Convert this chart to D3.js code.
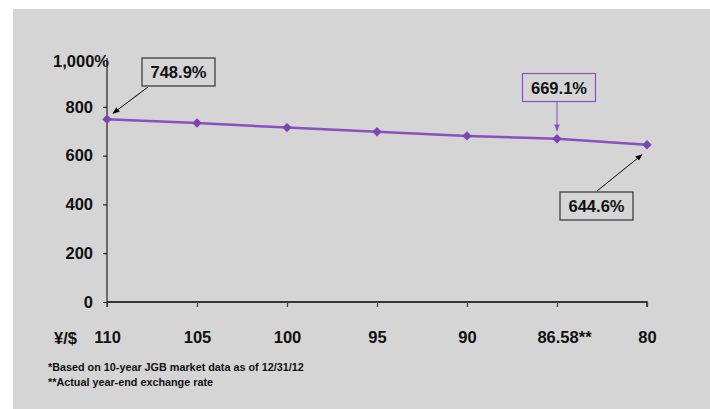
<!DOCTYPE html>
<html>
<head>
<meta charset="utf-8">
<script src="https://cdn.jsdelivr.net/npm/d3@7"></script>
<style>
  html, body { margin: 0; padding: 0; background: #ffffff; }
  svg { display: block; font-family: "Liberation Sans", Arial, sans-serif; }
</style>
</head>
<body>
<svg id="chart" width="710" height="409"></svg>
<script>
// Exchange-rate scenarios (yen per dollar) and the resulting ratio
const rates = ["110", "105", "100", "95", "90", "86.58**", "80"];
const ratios = [748.9, 733.5, 714.8, 698.0, 680.6, 669.1, 644.6];
const yTicks = [0, 200, 400, 600, 800];
const yTopLabel = "1,000%";
const xAxisTitle = "¥/$";
const footnotes = [
  "*Based on 10-year JGB market data as of 12/31/12",
  "**Actual year-end exchange rate"
];
// Callouts: index of the point and the text shown in the box
const callouts = [
  { i: 0, text: "748.9%" },
  { i: 5, text: "669.1%" },
  { i: 6, text: "644.6%" }
];

const svg = d3.select("#chart");
const purple = "#8a4fc0";
const font = "Liberation Sans, Arial, sans-serif";

// panel background
svg.append("rect").attr("x", 13).attr("y", 9).attr("width", 697).attr("height", 400)
  .attr("fill", "#d5d5d5");

const x = d3.scalePoint().domain(rates).range([107, 647]);
const y = d3.scaleLinear().domain([0, 1000]).range([302, 58]);

// y axis
const yAxis = svg.append("g").attr("transform", "translate(107,0)")
  .call(d3.axisLeft(y).tickValues(yTicks).tickSize(4).tickPadding(10).tickFormat(d3.format("d")));
yAxis.select(".domain").attr("d", `M0,${y(1000)}V${y(0) + 5}`).attr("stroke", "#444").attr("stroke-width", 1.5);
yAxis.selectAll(".tick line").attr("stroke", "#000");
yAxis.selectAll(".tick text").attr("font-size", 16.5).attr("font-weight", "bold").attr("fill", "#111")
  .attr("font-family", font);

svg.append("text").attr("x", 109).attr("y", 67).attr("text-anchor", "end")
  .attr("font-size", 16.5).attr("font-weight", "bold").attr("fill", "#111").text(yTopLabel);

// x axis
const xAxis = svg.append("g").attr("transform", `translate(0,${y(0)})`)
  .call(d3.axisBottom(x).tickSize(5).tickPadding(24));
xAxis.select(".domain").attr("d", `M${x(rates[0])},0H${x(rates[rates.length - 1])}V5`)
  .attr("stroke", "#000").attr("stroke-width", 1.3);
xAxis.selectAll(".tick line").attr("stroke", "#444").attr("stroke-width", 1.3);
xAxis.selectAll(".tick text").attr("font-size", 16.5).attr("font-weight", "bold").attr("fill", "#111")
  .attr("font-family", font)
  .attr("dx", d => d.endsWith("**") ? 7 : 0);

svg.append("text").attr("x", 54).attr("y", 344)
  .attr("font-size", 16.5).attr("font-weight", "bold").attr("fill", "#111").text(xAxisTitle);

// line + diamond markers
const pts = rates.map((r, i) => [x(r), y(ratios[i])]);
svg.append("path").datum(pts).attr("d", d3.line())
  .attr("fill", "none").attr("stroke", purple).attr("stroke-width", 2.5);
svg.selectAll(".mk").data(pts).enter().append("path")
  .attr("transform", d => `translate(${d[0]},${d[1]}) rotate(45)`)
  .attr("d", d3.symbol(d3.symbolSquare, 44))
  .attr("fill", "#7d45b3");

// arrow markers
const defs = svg.append("defs");
function arrowHead(id, color) {
  defs.append("marker").attr("id", id).attr("viewBox", "0 0 10 10")
    .attr("refX", 9).attr("refY", 5).attr("markerWidth", 7).attr("markerHeight", 7)
    .attr("orient", "auto").attr("markerUnits", "userSpaceOnUse")
    .append("path").attr("d", "M0,1L10,5L0,9Z").attr("fill", color);
}
arrowHead("ahBlack", "#000");
arrowHead("ahPurple", purple);

function box(cx, top, label, stroke) {
  const w = 73, h = 28;
  svg.append("rect").attr("x", cx - w / 2).attr("y", top).attr("width", w).attr("height", h)
    .attr("fill", "#d5d5d5").attr("stroke", stroke).attr("stroke-width", 1.2);
  svg.append("text").attr("x", cx).attr("y", top + 20).attr("text-anchor", "middle")
    .attr("font-size", 16.5).attr("font-weight", "bold").attr("fill", "#111").text(label);
}

// first point callout (box up-right, arrow down-left)
{
  const c = callouts[0], p = pts[c.i];
  svg.append("line").attr("x1", 148).attr("y1", 87).attr("x2", p[0] + 6).attr("y2", p[1] - 6)
    .attr("stroke", "#000").attr("stroke-width", 1).attr("marker-end", "url(#ahBlack)");
  box(178.5, 58, c.text, "#333");
}
// actual year-end rate callout (purple, arrow straight down)
{
  const c = callouts[1], p = pts[c.i];
  svg.append("line").attr("x1", p[0]).attr("y1", 101.5).attr("x2", p[0]).attr("y2", p[1] - 8)
    .attr("stroke", purple).attr("stroke-width", 1).attr("marker-end", "url(#ahPurple)");
  box(559, 73.5, c.text, purple);
}
// last point callout (box below-left, arrow up-right)
{
  const c = callouts[2], p = pts[c.i];
  svg.append("line").attr("x1", 597).attr("y1", 191).attr("x2", p[0] - 5).attr("y2", p[1] + 10)
    .attr("stroke", "#000").attr("stroke-width", 1).attr("marker-end", "url(#ahBlack)");
  box(596.5, 192, c.text, "#333");
}

// footnotes
svg.selectAll(".fn").data(footnotes).enter().append("text")
  .attr("x", 48).attr("y", (d, i) => 371 + i * 15)
  .attr("font-size", 10.8).attr("font-weight", "bold").attr("fill", "#111").text(d => d);
</script>
</body>
</html>
